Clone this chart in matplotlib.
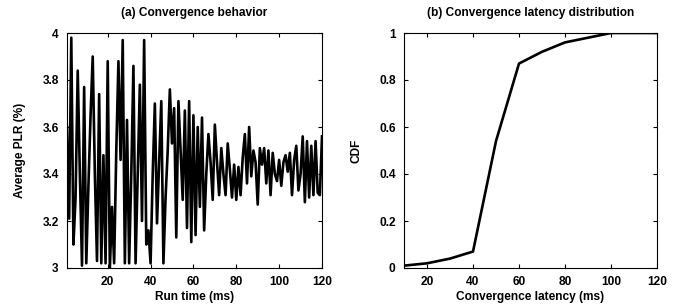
import matplotlib
matplotlib.use("Agg")
import matplotlib.pyplot as plt
import numpy as np

# (a) average PLR over run time, one sample per ms
run_time = np.arange(1, 121)
avg_plr = [
    3.60, 3.21, 3.98, 3.10, 3.30, 3.84, 3.40, 3.01, 3.77, 3.02,
    3.35, 3.65, 3.90, 3.40, 3.03, 3.74, 3.02, 3.48, 3.02, 3.88,
    3.00, 3.26, 3.02, 3.50, 3.88, 3.46, 3.97, 3.02, 3.63, 3.02,
    3.40, 3.86, 3.02, 3.40, 3.78, 3.20, 3.97, 3.10, 3.16, 3.02,
    3.40, 3.70, 3.19, 3.45, 3.71, 3.02, 3.30, 3.50, 3.76, 3.53,
    3.68, 3.13, 3.71, 3.50, 3.29, 3.67, 3.17, 3.71, 3.11, 3.65,
    3.14, 3.60, 3.26, 3.64, 3.16, 3.40, 3.57, 3.45, 3.29, 3.61,
    3.45, 3.31, 3.51, 3.40, 3.31, 3.53, 3.42, 3.30, 3.44, 3.29,
    3.43, 3.31, 3.47, 3.57, 3.36, 3.60, 3.39, 3.50, 3.45, 3.27,
    3.51, 3.44, 3.51, 3.36, 3.50, 3.31, 3.49, 3.40, 3.37, 3.46,
    3.35, 3.45, 3.48, 3.41, 3.49, 3.31, 3.46, 3.52, 3.33, 3.40,
    3.56, 3.28, 3.54, 3.30, 3.52, 3.31, 3.54, 3.32, 3.31, 3.56,
]

# (b) CDF of convergence latency
latency = [10, 20, 30, 40, 50, 60, 70, 80, 90, 100, 110, 120]
cdf = [0.01, 0.02, 0.04, 0.07, 0.54, 0.87, 0.92, 0.96, 0.98, 1.0, 1.0, 1.0]

FS = 8.6

plt.rcParams.update({
    'font.family': ['Liberation Sans', 'DejaVu Sans'],
    'font.stretch': 'normal',
    'font.weight': 'bold',
    'font.size': FS,
    'axes.linewidth': 0.8,
    'xtick.direction': 'in',
    'ytick.direction': 'in',
    'xtick.top': True,
    'ytick.right': True,
    'xtick.major.size': 3,
    'ytick.major.size': 3,
})

fig = plt.figure(figsize=(6.78, 3.08), dpi=100)
ax1 = fig.add_axes([67 / 678, 40 / 308, 255 / 678, 235 / 308])
ax2 = fig.add_axes([404 / 678, 40 / 308, 253 / 678, 235 / 308])

ax1.plot(run_time, avg_plr, color='black', linewidth=1.9)
ax1.set_xlim(1, 120)
ax1.set_ylim(3, 4)
ax1.set_xticks([20, 40, 60, 80, 100, 120])
ax1.set_yticks([3, 3.2, 3.4, 3.6, 3.8, 4])
ax1.set_yticklabels(['3', '3.2', '3.4', '3.6', '3.8', '4'])
ax1.set_title('(a) Convergence behavior', fontsize=FS, weight='bold', pad=12.5)
ax1.set_xlabel('Run time (ms)', fontsize=FS, weight='bold', labelpad=2)
ax1.set_ylabel('Average PLR (%)', fontsize=FS, weight='bold', labelpad=12)

ax2.plot(latency, cdf, color='black', linewidth=1.9)
ax2.set_xlim(10, 120)
ax2.set_ylim(0, 1)
ax2.set_xticks([20, 40, 60, 80, 100, 120])
ax2.set_yticks([0, 0.2, 0.4, 0.6, 0.8, 1])
ax2.set_yticklabels(['0', '0.2', '0.4', '0.6', '0.8', '1'])
ax2.set_title('(b) Convergence latency distribution', fontsize=FS, weight='bold', pad=12.5)
ax2.set_xlabel('Convergence latency (ms)', fontsize=FS, weight='bold', labelpad=2)
ax2.set_ylabel('CDF', fontsize=FS, weight='bold', labelpad=12)

for ax in (ax1, ax2):
    ax.tick_params(pad=6)

fig.savefig('out.png', dpi=100)
